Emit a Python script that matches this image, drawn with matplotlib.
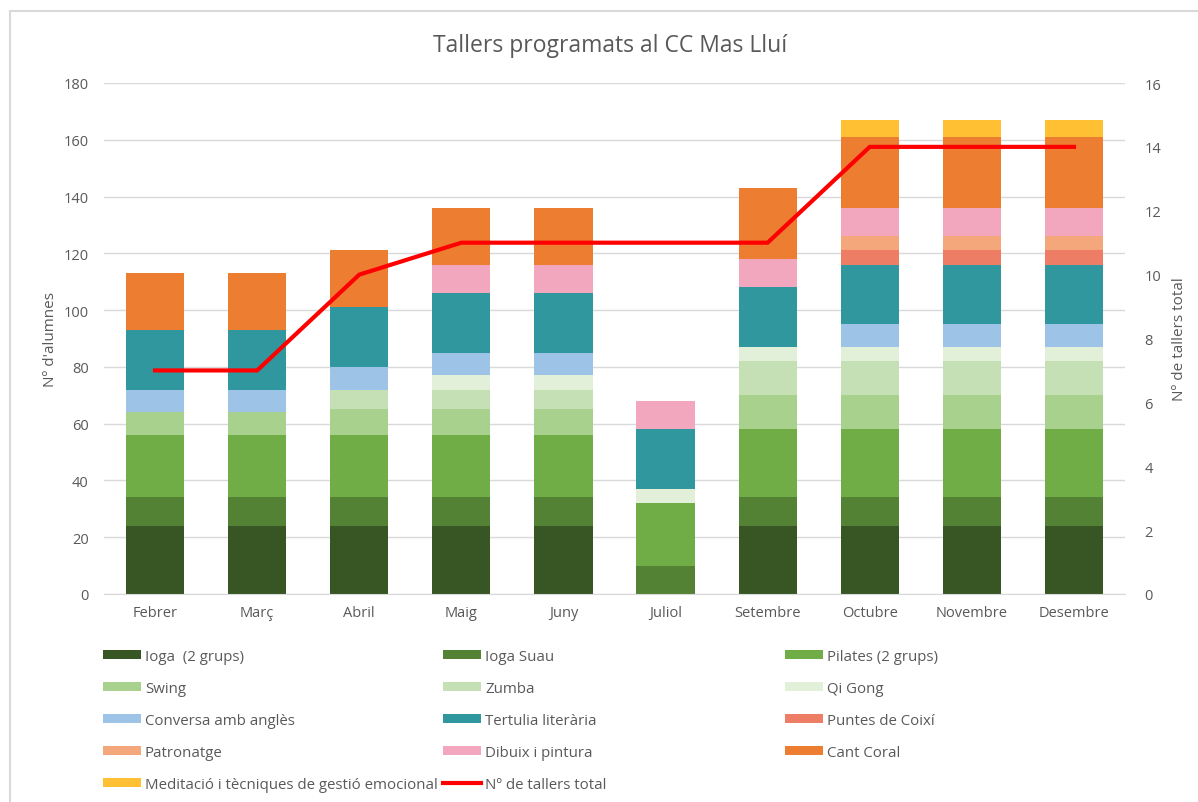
import matplotlib.pyplot as plt
from matplotlib.patches import Patch
from matplotlib.lines import Line2D
import numpy as np

# Data
months = ["Febrer", "Març", "Abril", "Maig", "Juny", "Juliol",
          "Setembre", "Octubre", "Novembre", "Desembre"]

ioga = [24, 24, 24, 24, 24, 0, 24, 24, 24, 24]
ioga_suau = [10, 10, 10, 10, 10, 10, 10, 10, 10, 10]
pilates = [22, 22, 22, 22, 22, 22, 24, 24, 24, 24]
swing = [8, 8, 9, 9, 9, 0, 12, 12, 12, 12]
zumba = [0, 0, 7, 7, 7, 0, 12, 12, 12, 12]
qi_gong = [0, 0, 0, 5, 5, 5, 5, 5, 5, 5]
conversa = [8, 8, 8, 8, 8, 0, 0, 8, 8, 8]
tertulia = [21, 21, 21, 21, 21, 21, 21, 21, 21, 21]
puntes = [0, 0, 0, 0, 0, 0, 0, 5, 5, 5]
patronatge = [0, 0, 0, 0, 0, 0, 0, 5, 5, 5]
dibuix = [0, 0, 0, 10, 10, 10, 10, 10, 10, 10]
cant_coral = [20, 20, 20, 20, 20, 0, 25, 25, 25, 25]
meditacio = [0, 0, 0, 0, 0, 0, 0, 6, 6, 6]

total_tallers = [7, 7, 10, 11, 11, 11, 11, 14, 14, 14]

series = [
    ("Ioga  (2 grups)", ioga, "#375623"),
    ("Ioga Suau", ioga_suau, "#548235"),
    ("Pilates (2 grups)", pilates, "#70AD47"),
    ("Swing", swing, "#A9D18E"),
    ("Zumba", zumba, "#C5E0B4"),
    ("Qi Gong", qi_gong, "#E2F0D9"),
    ("Conversa amb anglès", conversa, "#9DC3E6"),
    ("Tertulia literària", tertulia, "#31979F"),
    ("Puntes de Coixí", puntes, "#EE7D66"),
    ("Patronatge", patronatge, "#F4A77A"),
    ("Dibuix i pintura", dibuix, "#F2A7BF"),
    ("Cant Coral", cant_coral, "#ED7D31"),
    ("Meditació i tècniques de gestió emocional", meditacio, "#FFC133"),
]

plt.rcParams['font.family'] = ['Open Sans', 'DejaVu Sans']
txt_color = "#595959"

fig = plt.figure(figsize=(11.98, 8.03), dpi=100)
ax = fig.add_axes([104 / 1198, 1 - 595 / 803, (1125 - 104) / 1198, (595 - 84) / 803])

x = np.arange(len(months))
bottom = np.zeros(len(months))
handles = []
for name, vals, color in series:
    ax.bar(x, vals, bottom=bottom, width=0.57, color=color, zorder=2)
    bottom += np.array(vals)
    handles.append(Patch(facecolor=color, label=name))

ax.set_xlim(-0.5, len(months) - 0.5)
ax.set_ylim(0, 180)
ax.set_yticks(range(0, 181, 20))
ax.set_xticks(x)
ax.set_xticklabels(months)
ax.grid(axis='y', color="#D9D9D9", linewidth=1, zorder=0)
ax.set_axisbelow(True)
for s in ["top", "right", "left"]:
    ax.spines[s].set_visible(False)
ax.spines["bottom"].set_color("#D9D9D9")
ax.tick_params(length=0, colors=txt_color, labelsize=10.5)
ax.tick_params(axis='y', pad=11)
ax.tick_params(axis='x', pad=8)
ax.set_ylabel("Nº d'alumnes", color=txt_color, fontsize=11, labelpad=4)

ax2 = ax.twinx()
ax2.plot(x, total_tallers, color="#FF0000", linewidth=3, zorder=5)
ax2.set_ylim(0, 16)
ax2.set_yticks(range(0, 17, 2))
for s in ax2.spines.values():
    s.set_visible(False)
ax2.tick_params(length=0, colors=txt_color, labelsize=10.5, pad=14)
ax2.set_ylabel("Nº de tallers total", color=txt_color, fontsize=11, labelpad=8)
line_handle = Line2D([0], [0], color="#FF0000", linewidth=3, label="Nº de tallers total")

fig.text(610 / 1198, 1 - 46 / 803, "Tallers programats al CC Mas Lluí",
         ha="center", va="center", fontsize=16.5, color=txt_color)

# legend in three columns (row-major order like Excel)
all_handles = handles + [line_handle]
cols = [all_handles[0::3], all_handles[1::3], all_handles[2::3]]
col_x = [103, 443, 785]
for hs, cx in zip(cols, col_x):
    leg = fig.legend(handles=hs, loc="upper left",
                     bbox_to_anchor=(cx / 1198, 1 - 650 / 803),
                     frameon=False, fontsize=10.8, handlelength=2.55,
                     handleheight=0.55, handletextpad=0.25,
                     labelspacing=1.13, borderaxespad=0, borderpad=0)
    for t in leg.get_texts():
        t.set_color(txt_color)

# chart border
fig.add_artist(Line2D([10 / 1198, 10 / 1198], [0, 1 - 12 / 803],
                      color="#D9D9D9", linewidth=1.5))
fig.add_artist(Line2D([10 / 1198, 1], [1 - 12 / 803, 1 - 12 / 803],
                      color="#D9D9D9", linewidth=1.5))

plt.savefig("out.png", dpi=100)
